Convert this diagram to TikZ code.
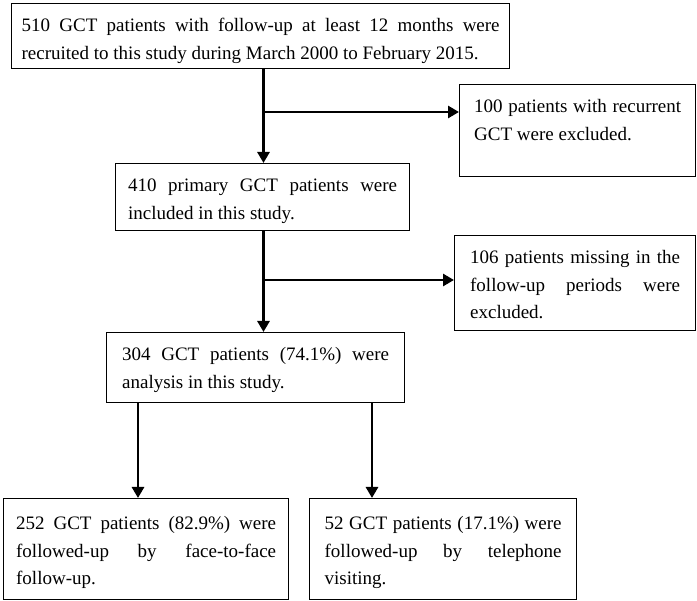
\documentclass[tikz,border=0pt]{standalone}
\usepackage{fontspec}
\setmainfont{Liberation Serif}
\usetikzlibrary{arrows.meta}

\begin{document}
\begin{tikzpicture}[x=1pt,y=-1pt,
    box/.style={draw,line width=1.3pt,anchor=north west,align=justify,
      inner ysep=0pt,text height=28pt,
      font=\fontsize{19}{27.5}\selectfont,
      execute at begin node={\tolerance=10000 \exhyphenpenalty=10000 }},
    flow/.style={line width=2.8pt,-{Triangle[length=11pt,width=12pt]}}]
    \useasboundingbox (0,0) rectangle (697,601);
    % boxes
    \node[box,text width=478pt,inner xsep=10pt,text depth=37pt] (recruit) at (11,3)
      {510 GCT patients with follow-up at least 12 months were\linebreak recruited to this study during March 2000 to February 2015.};
    \node[box,text width=207pt,inner xsep=14.5pt,text depth=64pt] (recurrent) at (459,84)
      {100 patients with recurrent\linebreak GCT were excluded.};
    \node[box,text width=269pt,inner xsep=12.5pt,text depth=39pt] (primary) at (115,163)
      {410 primary GCT patients were\linebreak included in this study.};
    \node[box,text width=210pt,inner xsep=15.5pt,text depth=67pt] (missing) at (454,235)
      {106 patients missing in the\linebreak follow-up periods were\linebreak excluded.};
    \node[box,text width=267pt,inner xsep=15.5pt,text depth=42pt] (analysed) at (106,332)
      {304 GCT patients (74.1\%) were\linebreak analysis in this study.};
    \node[box,text width=260pt,inner xsep=12.5pt,text height=31pt,text depth=70pt] (face) at (3,498)
      {252 GCT patients (82.9\%) were\linebreak followed-up by face-to-face\linebreak follow-up.};
    \node[box,text width=237pt,inner xsep=15pt,text height=31pt,text depth=70pt] (phone) at (309,498)
      {52 GCT patients (17.1\%) were\linebreak followed-up by telephone\linebreak visiting.};
    % arrows
    \coordinate (split1) at (263.5,112);
    \coordinate (split2) at (263.5,280);
    \coordinate (facex) at (138,0);
    \coordinate (phonex) at (372,0);
    \draw[flow] (recruit.south -| split1) -- (primary.north -| split1);
    \draw[flow] (split1) -- (split1 -| recurrent.west);
    \draw[flow] (primary.south -| split2) -- (analysed.north -| split2);
    \draw[flow] (split2) -- (split2 -| missing.west);
    \draw[flow] (analysed.south -| facex) -- (face.north -| facex);
    \draw[flow] (analysed.south -| phonex) -- (phone.north -| phonex);
\end{tikzpicture}
\end{document}
